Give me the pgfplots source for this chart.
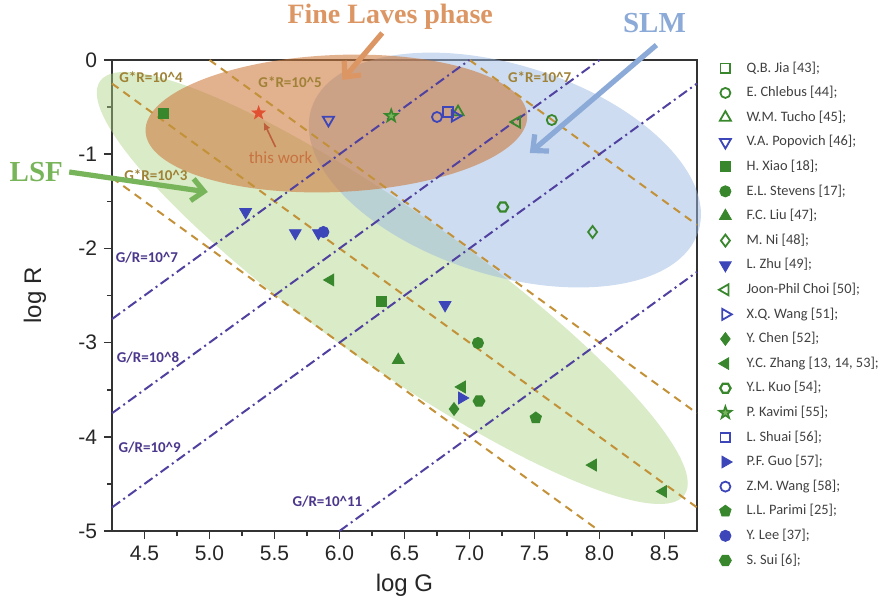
\documentclass[border=0pt]{standalone}
\usepackage{fontspec}
\setmainfont{Liberation Sans}
\newfontfamily\calibrif{Carlito}
\newfontfamily\timesf{Liberation Serif}
\usepackage{pgfplots}
\pgfplotsset{compat=1.18}
\usetikzlibrary{plotmarks,arrows.meta}

\definecolor{mgreen}{RGB}{56,135,45}
\definecolor{mblue}{RGB}{60,70,185}
\definecolor{grline}{RGB}{195,145,55}
\definecolor{gdline}{RGB}{80,65,160}
\definecolor{grlab}{RGB}{160,130,55}
\definecolor{gdlab}{RGB}{75,55,140}
\definecolor{ellG}{RGB}{170,210,130}
\definecolor{ellB}{RGB}{155,185,225}
\definecolor{ellO}{RGB}{205,120,60}
\definecolor{laves}{RGB}{220,150,100}
\definecolor{slm}{RGB}{140,170,215}
\definecolor{lsf}{RGB}{120,180,90}
\definecolor{twork}{RGB}{225,80,50}

\pgfdeclareplotmark{hexagon}{%
  \pgfpathmoveto{\pgfpointpolar{0}{\pgfplotmarksize}}%
  \pgfpathlineto{\pgfpointpolar{60}{\pgfplotmarksize}}%
  \pgfpathlineto{\pgfpointpolar{120}{\pgfplotmarksize}}%
  \pgfpathlineto{\pgfpointpolar{180}{\pgfplotmarksize}}%
  \pgfpathlineto{\pgfpointpolar{240}{\pgfplotmarksize}}%
  \pgfpathlineto{\pgfpointpolar{300}{\pgfplotmarksize}}%
  \pgfpathclose\pgfusepathqstroke}
\pgfdeclareplotmark{hexagon*}{%
  \pgfpathmoveto{\pgfpointpolar{0}{\pgfplotmarksize}}%
  \pgfpathlineto{\pgfpointpolar{60}{\pgfplotmarksize}}%
  \pgfpathlineto{\pgfpointpolar{120}{\pgfplotmarksize}}%
  \pgfpathlineto{\pgfpointpolar{180}{\pgfplotmarksize}}%
  \pgfpathlineto{\pgfpointpolar{240}{\pgfplotmarksize}}%
  \pgfpathlineto{\pgfpointpolar{300}{\pgfplotmarksize}}%
  \pgfpathclose\pgfusepathqfillstroke}
\pgfdeclareplotmark{fstar}{%
  \pgfpathmoveto{\pgfpointpolar{90}{1.25\pgfplotmarksize}}%
  \pgfpathlineto{\pgfpointpolar{126}{0.5\pgfplotmarksize}}%
  \pgfpathlineto{\pgfpointpolar{162}{1.25\pgfplotmarksize}}%
  \pgfpathlineto{\pgfpointpolar{198}{0.5\pgfplotmarksize}}%
  \pgfpathlineto{\pgfpointpolar{234}{1.25\pgfplotmarksize}}%
  \pgfpathlineto{\pgfpointpolar{270}{0.5\pgfplotmarksize}}%
  \pgfpathlineto{\pgfpointpolar{306}{1.25\pgfplotmarksize}}%
  \pgfpathlineto{\pgfpointpolar{342}{0.5\pgfplotmarksize}}%
  \pgfpathlineto{\pgfpointpolar{18}{1.25\pgfplotmarksize}}%
  \pgfpathlineto{\pgfpointpolar{54}{0.5\pgfplotmarksize}}%
  \pgfpathclose\pgfusepathqfillstroke}

\begin{document}
\begin{tikzpicture}
\path[use as bounding box] (-56pt,-38pt) rectangle (384pt,265.5pt);
\begin{axis}[
  at={(0,0)}, anchor=south west,
  scale only axis, width=292.5pt, height=235.5pt,
  xmin=4.25, xmax=8.75, ymin=-5, ymax=0,
  clip=false,
  tick pos=left, tick align=outside,
  xtick={4.5,5,5.5,6,6.5,7,7.5,8,8.5},
  xticklabels={4.5,5.0,5.5,6.0,6.5,7.0,7.5,8.0,8.5},
  ytick={0,-1,-2,-3,-4,-5},
  yticklabels={0,-1,-2,-3,-4,-5},
  minor x tick num=1, minor y tick num=1,
  major tick length=4pt, minor tick length=2.5pt,
  axis line style={line width=0.8pt, black!80},
  every tick/.style={line width=0.8pt, black!80},
  tick label style={font=\fontsize{10.5}{12}\selectfont, black!85},
  xlabel={log G}, ylabel={log R},
  label style={font=\fontsize{12}{14}\selectfont, black!85},
  xlabel style={at={(axis description cs:0.5,0)}, anchor=center, yshift=-27pt},
  ylabel style={at={(axis description cs:-0.1316,0.5)}, anchor=center},
  legend cell align=left,
  legend style={at={(1,1)}, anchor=north west, xshift=10pt, yshift=0pt,
    draw=none, fill=none, inner sep=0pt, row sep=4.4pt,
    font=\calibrif\fontsize{7.2}{8.5}\selectfont, text=black!75,
    nodes={inner sep=0.6pt}},
  legend image code/.code={\path[draw=none,fill=none] (0pt,0pt) -- (14pt,0pt); \draw[#1] plot coordinates {(4pt,0pt)};},
]
% shaded regions
\fill[ellG, fill opacity=0.45, rotate around={-35.3:(axis cs:6.406,-2.420)}] (axis cs:6.406,-2.420) ellipse [x radius=179pt, y radius=38pt];
\fill[ellB, fill opacity=0.5, rotate around={-17.6:(axis cs:7.272,-1.168)}] (axis cs:7.272,-1.168) ellipse [x radius=101.5pt, y radius=52.5pt];
\fill[ellO, fill opacity=0.58, rotate around={2.4:(axis cs:5.976,-0.674)}] (axis cs:5.976,-0.674) ellipse [x radius=95.5pt, y radius=34.25pt];

% G*R lines
\addplot[grline, line width=1pt, dash pattern=on 4pt off 3pt, forget plot] coordinates {(4.25,-1.25) (8,-5)};
\addplot[grline, line width=1pt, dash pattern=on 4pt off 3pt, forget plot] coordinates {(4.25,-0.25) (8.75,-4.75)};
\addplot[grline, line width=1pt, dash pattern=on 4pt off 3pt, forget plot] coordinates {(5,0) (8.75,-3.75)};
\addplot[grline, line width=1pt, dash pattern=on 4pt off 3pt, forget plot] coordinates {(7,0) (8.75,-1.75)};
% G/R lines
\addplot[gdline, line width=1pt, dash pattern=on 5pt off 2pt on 1pt off 2pt, forget plot] coordinates {(4.25,-2.75) (7,0)};
\addplot[gdline, line width=1pt, dash pattern=on 5pt off 2pt on 1pt off 2pt, forget plot] coordinates {(4.25,-3.75) (8,0)};
\addplot[gdline, line width=1pt, dash pattern=on 5pt off 2pt on 1pt off 2pt, forget plot] coordinates {(4.25,-4.75) (8.75,-0.25)};
\addplot[gdline, line width=1pt, dash pattern=on 5pt off 2pt on 1pt off 2pt, forget plot] coordinates {(6,-5) (8.75,-2.25)};

% data series
\addlegendimage{only marks, mark=square, mgreen, mark size=2.4pt, line width=0.9pt}
\addlegendentry{Q.B. Jia [43];}
\addplot[only marks, mark=o, mgreen, mark size=2.5pt, line width=0.9pt] coordinates {(7.633,-0.637)};
\addlegendentry{E. Chlebus [44];}
\addplot[only marks, mark=triangle, mgreen, mark size=3.2pt, line width=0.9pt] coordinates {(6.912,-0.552)};
\addlegendentry{W.M. Tucho [45];}
\addplot[only marks, mark=triangle, mblue, mark size=3.2pt, line width=0.9pt, mark options={rotate=180}] coordinates {(5.915,-0.637)};
\addlegendentry{V.A. Popovich [46];}
\addplot[only marks, mark=square*, mgreen, mark size=2.5pt] coordinates {(4.642,-0.563) (6.321,-2.558)};
\addlegendentry{H. Xiao [18];}
\addplot[only marks, mark=*, mgreen, mark size=2.8pt] coordinates {(7.065,-3.004)};
\addlegendentry{E.L. Stevens [17];}
\addplot[only marks, mark=triangle*, mgreen, mark size=3.4pt] coordinates {(6.452,-3.185)};
\addlegendentry{F.C. Liu [47];}
\addplot[only marks, mark=diamond, mgreen, mark size=3pt, line width=0.9pt] coordinates {(7.947,-1.826)};
\addlegendentry{M. Ni [48];}
\addplot[only marks, mark=triangle*, mblue, mark size=3.4pt, mark options={rotate=180}] coordinates {(5.278,-1.614) (5.660,-1.837) (5.838,-1.837) (6.812,-2.601)};
\addlegendentry{L. Zhu [49];}
\addplot[only marks, mark=triangle, mgreen, mark size=3.2pt, line width=0.9pt, mark options={rotate=90}] coordinates {(7.364,-0.658)};
\addlegendentry{Joon-Phil Choi [50];}
\addplot[only marks, mark=triangle, mblue, mark size=3.2pt, line width=0.9pt, mark options={rotate=-90}] coordinates {(6.889,-0.594)};
\addlegendentry{X.Q. Wang [51];}
\addplot[only marks, mark=diamond*, mgreen, mark size=3.2pt] coordinates {(6.881,-3.705)};
\addlegendentry{Y. Chen [52];}
\addplot[only marks, mark=triangle*, mgreen, mark size=3.4pt, mark options={rotate=90}] coordinates {(5.930,-2.335) (6.942,-3.471) (7.95,-4.30) (8.49,-4.58)};
\addlegendentry{Y.C. Zhang [13, 14, 53];}
\addplot[only marks, mark=hexagon, mgreen, mark size=2.6pt, line width=1.1pt] coordinates {(7.257,-1.561)};
\addlegendentry{Y.L. Kuo [54];}
\addplot[only marks, mark=fstar, mgreen, mark size=2.6pt, line width=0.8pt, mark options={fill=lsf}] coordinates {(6.398,-0.594)};
\addlegendentry{P. Kavimi [55];}
\addplot[only marks, mark=square, mblue, mark size=2.4pt, line width=0.9pt] coordinates {(6.835,-0.552)};
\addlegendentry{L. Shuai [56];}
\addplot[only marks, mark=triangle*, mblue, mark size=3.4pt, mark options={rotate=-90}] coordinates {(6.942,-3.588)};
\addlegendentry{P.F. Guo [57];}
\addplot[only marks, mark=o, mblue, mark size=2.5pt, line width=0.9pt] coordinates {(6.750,-0.605)};
\addlegendentry{Z.M. Wang [58];}
\addplot[only marks, mark=pentagon*, mgreen, mark size=3pt] coordinates {(7.510,-3.800)};
\addlegendentry{L.L. Parimi [25];}
\addplot[only marks, mark=*, mblue, mark size=2.8pt] coordinates {(5.876,-1.826)};
\addlegendentry{Y. Lee [37];}
\addplot[only marks, mark=hexagon*, mgreen, mark size=3pt] coordinates {(7.073,-3.620)};
\addlegendentry{S. Sui [6];}
% this work
\addplot[only marks, mark=fstar, twork, mark size=2.7pt, forget plot] coordinates {(5.378,-0.563)};

% line labels
\begin{scope}[every node/.style={font=\calibrif\bfseries\fontsize{7.5}{9}\selectfont}]
\node[text=grlab] at (axis cs:4.55,-0.18) {G*R=10\textasciicircum 4};
\node[text=grlab] at (axis cs:5.62,-0.234) {G*R=10\textasciicircum 5};
\node[text=grlab] at (axis cs:4.588,-1.221) {G*R=10\textasciicircum 3};
\node[text=grlab] at (axis cs:7.54,-0.18) {G*R=10\textasciicircum 7};
\node[text=gdlab] at (axis cs:4.519,-2.102) {G/R=10\textasciicircum 7};
\node[text=gdlab] at (axis cs:4.527,-3.163) {G/R=10\textasciicircum 8};
\node[text=gdlab] at (axis cs:4.54,-4.11) {G/R=10\textasciicircum 9};
\node[text=gdlab] at (axis cs:5.907,-4.69) {G/R=10\textasciicircum 11};
\end{scope}

% this work annotation
\draw[-{Latex[length=4pt,width=3.5pt]}, line width=0.8pt, color={rgb,255:red,190;green,95;blue,60}] (axis cs:5.508,-0.924) -- (axis cs:5.416,-0.658);
\node[font=\calibrif\fontsize{8.5}{10}\selectfont, text={rgb,255:red,200;green,115;blue,65}] at (axis cs:5.547,-1.041) {this work};

% region titles and arrows
\node[font=\timesf\bfseries\fontsize{14}{16}\selectfont, text=laves] at (axis cs:6.39,0.456) {Fine Laves phase};
\node[font=\timesf\bfseries\fontsize{14.5}{16}\selectfont, text=slm] at (axis cs:8.423,0.393) {SLM};
\node[font=\timesf\bfseries\fontsize{14.5}{16}\selectfont, text=lsf] at (axis cs:3.668,-1.189) {LSF};
\draw[laves, line width=2.6pt, -{Straight Barb[length=6pt,width=11pt]}] (axis cs:6.329,0.287) -- (axis cs:6.022,-0.212);
\draw[slm, line width=2.6pt, -{Straight Barb[length=6pt,width=11pt]}] (axis cs:8.438,0.159) -- (axis cs:7.464,-0.987);
\draw[lsf, line width=2.6pt, -{Straight Barb[length=6pt,width=11pt]}] (axis cs:3.921,-1.189) -- (axis cs:4.987,-1.401);
\end{axis}
\end{tikzpicture}
\end{document}
